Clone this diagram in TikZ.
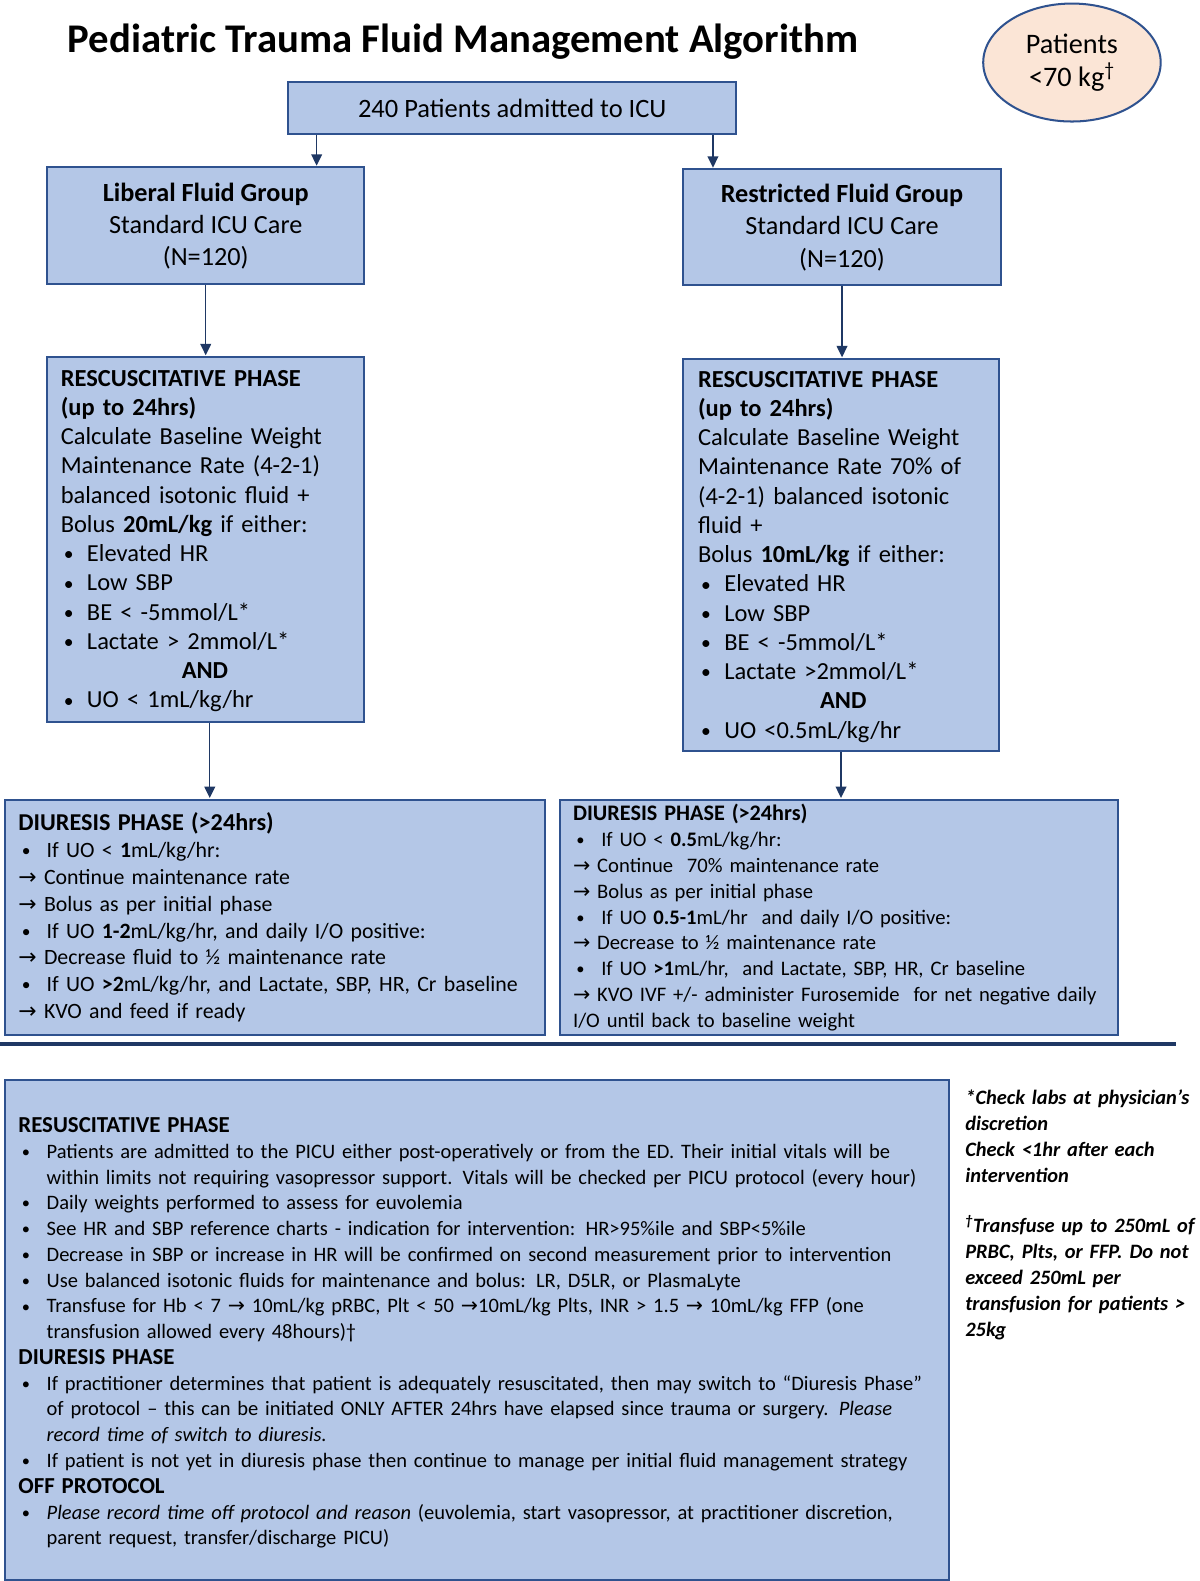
\documentclass[tikz,border=0pt]{standalone}
\usepackage{fontspec}
\setmainfont{Carlito}
\newfontfamily\dv{DejaVu Sans}
\usetikzlibrary{arrows.meta,shapes.geometric}
\definecolor{boxfill}{HTML}{B4C7E7}
\definecolor{boxline}{HTML}{2F528F}
\definecolor{navy}{HTML}{1F3864}
\definecolor{peach}{HTML}{FBE5D6}
\newcommand{\ar}{{\dv →}}
\newcommand{\bdot}{\raisebox{0.6pt}{\scalebox{0.8}{•}}}
\newcommand{\bl}{\hspace*{2.25pt}\makebox[17.25pt][l]{\bdot}}
\newcommand{\blw}{\hspace*{2.5pt}\makebox[18.5pt][l]{\bdot}}
\newcommand{\ind}{\hspace*{21pt}}
\begin{document}
\begin{tikzpicture}[x=0.75pt,y=-0.75pt,
 box/.style={draw=boxline, line width=1.5pt, fill=boxfill, inner sep=0pt, anchor=north west},
 txt/.style={anchor=base west, inner sep=0pt, align=left, text width=#1},
 txt/.default=300pt,
 arr/.style={draw=navy, line width=1.1pt, -{Triangle[width=8pt,length=8.5pt]}, shorten >=0.5pt}
]
\useasboundingbox (0,0) rectangle (1189.5,1567.8);
\fill[white] (0,0) rectangle (1189.5,1567.8);

% title
\node[anchor=base west, inner sep=0pt, font=\fontsize{30.3pt}{32pt}\selectfont\bfseries] (title) at (67,52) {Pediatric Trauma Fluid Management Algorithm};

% patients ellipse
\node[ellipse, draw=boxline, line width=1.5pt, fill=peach, minimum width=132pt, minimum height=87.75pt, inner sep=0pt, align=center, font=\fontsize{21pt}{24.75pt}\selectfont] (pat) at (1063,62) {Patients\\<70 kg\textsuperscript{†}};

% top box
\node[box, minimum width=333pt, minimum height=39pt, font=\fontsize{19.7pt}{22pt}\selectfont] (top) at (285,80) {240 Patients admitted to ICU};

% group boxes
\node[box, minimum width=235.5pt, minimum height=87pt, align=center, font=\fontsize{19.5pt}{24pt}\selectfont] (lib) at (46,165) {\textbf{Liberal Fluid Group}\\Standard ICU Care\\(N=120)};
\node[box, minimum width=237pt, minimum height=86.25pt, align=center, font=\fontsize{19.5pt}{24pt}\selectfont] (res) at (676,167) {\textbf{Restricted Fluid Group}\\Standard ICU Care\\(N=120)};

% resuscitative boxes
\node[box, minimum width=235.5pt, minimum height=271.5pt] (lres) at (46,353) {};
\node[box, minimum width=235.5pt, minimum height=291.75pt] (rres) at (676,355) {};

\node[txt=230pt, font=\fontsize{18.2pt}{21.75pt}\selectfont] (lrestxt) at (60,383) {%
\textbf{RESCUSCITATIVE PHASE}\\
\textbf{(up to 24hrs)}\\
Calculate Baseline Weight\\
Maintenance Rate (4-2-1)\\
balanced isotonic fluid +\\
Bolus \textbf{20mL/kg} if either:\\
\bl Elevated HR\\
\bl Low SBP\\
\bl BE < -5mmol/L*\\
\bl Lactate > 2mmol/L*\\
\makebox[214.5pt][c]{\textbf{AND}}\\
\bl UO < 1mL/kg/hr};

\node[txt=230pt, font=\fontsize{18.2pt}{21.75pt}\selectfont] (rrestxt) at (692,384) {%
\textbf{RESCUSCITATIVE PHASE}\\
\textbf{(up to 24hrs)}\\
Calculate Baseline Weight\\
Maintenance Rate 70\% of\\
(4-2-1) balanced isotonic\\
fluid +\\
Bolus \textbf{10mL/kg} if either:\\
\bl Elevated HR\\
\bl Low SBP\\
\bl BE < -5mmol/L*\\
\bl Lactate >2mmol/L*\\
\makebox[216pt][c]{\textbf{AND}}\\
\bl UO <0.5mL/kg/hr};

% diuresis boxes
\node[box, minimum width=401.25pt, minimum height=174.75pt] (ldiu) at (4,792) {};
\node[box, minimum width=415.5pt, minimum height=174.75pt] (rdiu) at (554,792) {};

\node[txt=400pt, font=\fontsize{16.25pt}{19.93pt}\selectfont] (ldiutxt) at (18,824) {%
{\fontsize{18pt}{19.93pt}\selectfont\textbf{DIURESIS PHASE (>24hrs)}}\\
\blw If UO < \textbf{1}mL/kg/hr:\\
\ar\ Continue maintenance rate\\
\ar\ Bolus as per initial phase\\
\blw If UO \textbf{1-2}mL/kg/hr, and daily I/O positive:\\
\ar\ Decrease fluid to ½ maintenance rate\\
\blw If UO \textbf{>2}mL/kg/hr, and Lactate, SBP, HR, Cr baseline\\
\ar\ KVO and feed if ready};

\node[txt=420pt, font=\fontsize{15.35pt}{19.2pt}\selectfont] (rdiutxt) at (568,814) {%
{\fontsize{16.5pt}{19.2pt}\selectfont\textbf{DIURESIS\ PHASE (>24hrs)}}\\
\blw If UO < \textbf{0.5}mL/kg/hr:\\
\ar\ Continue\ \ 70\% maintenance rate\\
\ar\ Bolus as per initial phase\\
\blw If UO \textbf{0.5-1}mL/hr\ \ and daily I/O positive:\\
\ar\ Decrease to ½ maintenance rate\\
\blw If UO \textbf{>1}mL/hr,\ \ and Lactate, SBP, HR, Cr baseline\\
\ar\ KVO IVF +/- administer Furosemide\ \ for net negative daily\\
I/O until back to baseline weight};

% separator
\coordinate (sepl) at (0,1035);
\coordinate (sepr) at (1166,1035);
\draw[navy, line width=3pt] (sepl) -- (sepr);

% bottom box
\node[box, minimum width=702pt, minimum height=372pt] (bot) at (4,1070) {};
\node[txt=720pt, font=\fontsize{15.25pt}{19.17pt}\selectfont] (bottxt) at (18,1123) {%
{\fontsize{17pt}{19.17pt}\selectfont\textbf{RESUSCITATIVE PHASE}}\\
\blw Patients are admitted to the PICU either post-operatively or from the ED. Their initial vitals will be\\
\ind within limits not requiring vasopressor support. Vitals will be checked per PICU protocol (every hour)\\
\blw Daily weights performed to assess for euvolemia\\
\blw See HR and SBP reference charts - indication for intervention: HR>95\%ile and SBP<5\%ile\\
\blw Decrease in SBP or increase in HR will be confirmed on second measurement prior to intervention\\
\blw Use balanced isotonic fluids for maintenance and bolus: LR, D5LR, or PlasmaLyte\\
\blw Transfuse for Hb < 7 \ar\ 10mL/kg pRBC, Plt < 50 \ar10mL/kg Plts, INR > 1.5 \ar\ 10mL/kg FFP (one\\
\ind transfusion allowed every 48hours)†\\
{\fontsize{17pt}{19.17pt}\selectfont\textbf{DIURESIS PHASE}}\\
\blw If practitioner determines that patient is adequately resuscitated, then may switch to “Diuresis Phase”\\
\ind of protocol – this can be initiated ONLY AFTER 24hrs have elapsed since trauma or surgery. \textit{Please}\\
\ind\textit{record time of switch to diuresis.}\\
\blw If patient is not yet in diuresis phase then continue to manage per initial fluid management strategy\\
{\fontsize{17pt}{19.17pt}\selectfont\textbf{OFF PROTOCOL}}\\
\blw \textit{Please record time off protocol and reason} (euvolemia, start vasopressor, at practitioner discretion,\\
\ind parent request, transfer/discharge PICU)};

% side note
\node[txt=220pt, font=\fontsize{15.2pt}{19.35pt}\selectfont\bfseries\itshape] (note) at (957,1095) {%
*Check labs at physician’s\\
discretion\\
Check <1hr after each\\
intervention\\[18pt]
\textsuperscript{†}Transfuse up to 250mL of\\
PRBC, Plts, or FFP. Do not\\
exceed 250mL per\\
transfusion for patients >\\
25kg};

% connectors
\coordinate (a1) at ([xshift=21.75pt]top.south west);
\coordinate (a2) at ([xshift=-18pt]top.south east);
\draw[arr] (a1) -- (a1 |- lib.north);
\draw[arr] (a2) -- (a2 |- res.north);
\draw[arr] (lib.south) -- (lib.south |- lres.north);
\draw[arr] (res.south) -- (res.south |- rres.north);
\draw[arr] ([xshift=3pt]lres.south) -- ([xshift=3pt]lres.south |- ldiu.north);
\draw[arr] (rres.south) -- (rres.south |- rdiu.north);
\end{tikzpicture}
\end{document}
